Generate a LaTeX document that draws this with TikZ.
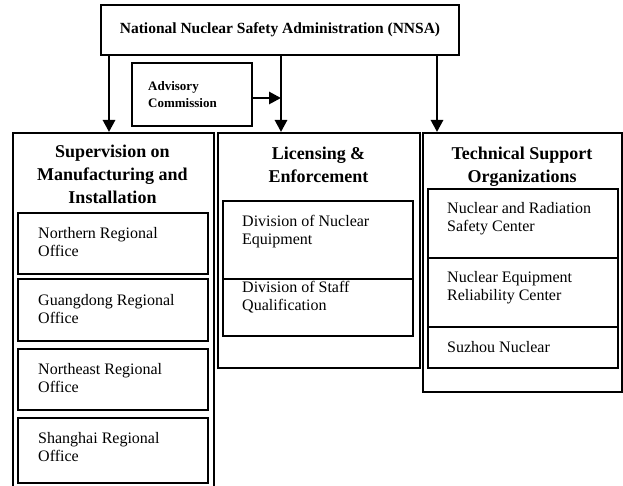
\documentclass[tikz,border=0pt]{standalone}
\usepackage{fontspec}
\setmainfont{Liberation Serif}
\usetikzlibrary{positioning,arrows.meta}

\tikzset{
  topbox/.style={draw, line width=2pt, inner sep=0pt},
  colbox/.style={draw, line width=2.2pt, anchor=north west, inner sep=0pt},
  unitbox/.style={draw, line width=1.8pt, anchor=north west, inner sep=0pt, minimum width=190pt},
  headtext/.style={anchor=north, align=center, inner sep=0pt, font=\fontsize{18}{23}\selectfont\bfseries},
  unittext/.style={anchor=north west, align=left, inner sep=0pt, font=\fontsize{16}{18}\selectfont},
  link/.style={line width=2.8pt, -{Triangle[width=12pt,length=12pt]}},
}

\begin{document}
\begin{tikzpicture}[x=1pt, y=-1pt]

% Page size
\path[use as bounding box, fill=white] (0,0) rectangle (623,486);

% Top of the chart
\node[topbox, minimum width=358pt, minimum height=50pt, font=\fontsize{15.5}{18}\selectfont\bfseries] (nnsa) at (280,30) {National Nuclear Safety Administration (NNSA)};

\node[topbox, anchor=north west, minimum width=120pt, minimum height=63pt] (adv) at (131,62) {};
\node[anchor=north west, align=left, inner sep=0pt, font=\fontsize{13}{17}\selectfont\bfseries] (advtext) at (148,81) {Advisory\\Commission};

% The three columns
\node[colbox, minimum width=201pt, minimum height=360pt] (sup) at (12,132) {};
\node[colbox, minimum width=202pt, minimum height=235pt] (lic) at (217,132) {};
\node[colbox, minimum width=199pt, minimum height=259pt] (tso) at (422,132) {};

\node[headtext] (suptext) at (112.5,145) {Supervision on\\Manufacturing and\\Installation};
\node[headtext] (lictext) at (318.5,147) {Licensing \&\\Enforcement};
\node[headtext] (tsotext) at (522,147) {Technical Support\\Organizations};

% Arrows
\coordinate (supin) at ([xshift=9pt]nnsa.south west);
\coordinate (licin) at ([xshift=181pt]nnsa.south west);
\coordinate (tsoin) at ([xshift=337pt]nnsa.south west);

\draw[link] (supin) -- (supin |- sup.north);
\draw[link] (licin) -- (licin |- lic.north);
\draw[link] (tsoin) -- (tsoin |- tso.north);
\draw[link] ([yshift=-3.5pt]adv.east) -- ([yshift=-3.5pt]adv.east -| licin);

% Regional offices
\node[unitbox, minimum height=61pt] (north) at (17,212) {};
\node[unittext] (northtext) at ([shift={(21,15)}]north.north west) {Northern Regional\\Office};

\node[unitbox, minimum height=62pt] (guang) at (17,278) {};
\node[unittext] (guangtext) at ([shift={(21,16)}]guang.north west) {Guangdong Regional\\Office};

\node[unitbox, minimum height=61pt] (neast) at (17,348) {};
\node[unittext] (neasttext) at ([shift={(21,15)}]neast.north west) {Northeast Regional\\Office};

\node[unitbox, minimum height=65pt] (shang) at (17,417) {};
\node[unittext] (shangtext) at ([shift={(21,15)}]shang.north west) {Shanghai Regional\\Office};

% Divisions
\node[unitbox, minimum height=78pt] (equip) at (222,200) {};
\node[unittext] (equiptext) at ([shift={(20,15)}]equip.north west) {Division of Nuclear\\Equipment};

\node[unitbox, minimum height=57pt] (staff) at (222,278) {};
\node[unittext] (stafftext) at ([shift={(20,3)}]staff.north west) {Division of Staff\\Qualification};

% Support organizations
\node[unitbox, minimum height=69pt] (nrsc) at (427,188) {};
\node[unittext] (nrsctext) at ([shift={(20,14)}]nrsc.north west) {Nuclear and Radiation\\Safety Center};

\node[unitbox, minimum height=69pt] (nerc) at (427,257) {};
\node[unittext] (nerctext) at ([shift={(20,14)}]nerc.north west) {Nuclear Equipment\\Reliability Center};

\node[unitbox, minimum height=41pt] (suzhou) at (427,326) {};
\node[unittext] (suzhoutext) at ([shift={(20,15)}]suzhou.north west) {Suzhou Nuclear};

\end{tikzpicture}
\end{document}
